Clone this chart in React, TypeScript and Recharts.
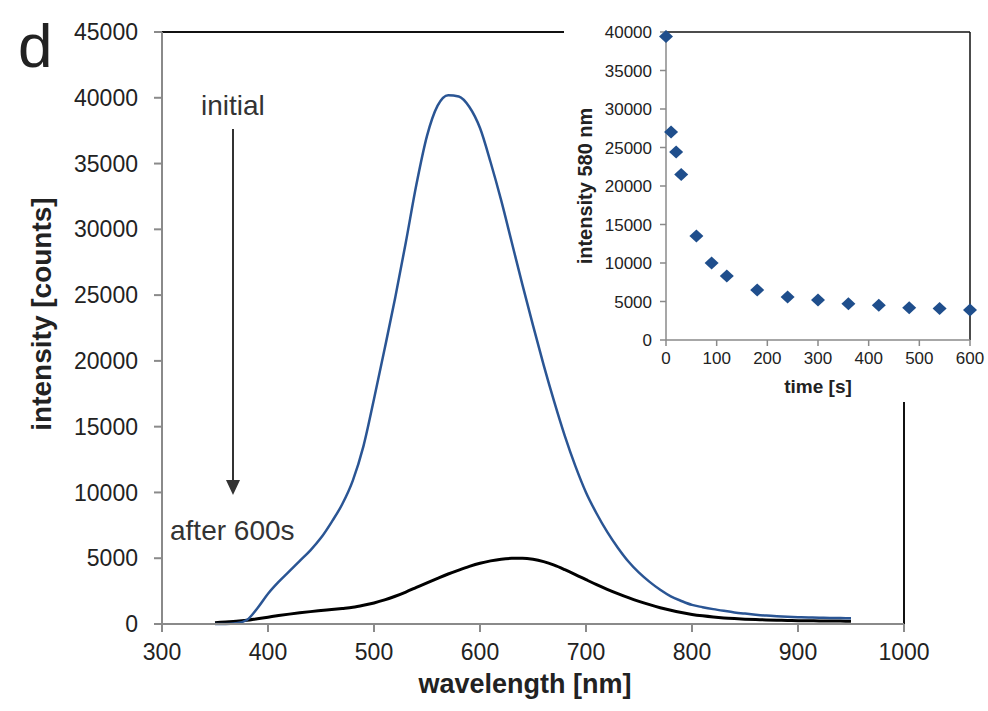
import React from 'react';
import {
  LineChart,
  Line,
  ScatterChart,
  Scatter,
  XAxis,
  YAxis,
  ReferenceLine,
  Label,
} from 'recharts';

// emission spectra, 10 nm steps
const wavelengths = [
  350, 360, 370, 380, 390, 400, 410, 420, 430, 440, 450, 460, 470, 480, 490,
  500, 510, 520, 530, 540, 550, 560, 570, 580, 590, 600, 610, 620, 630, 640,
  650, 660, 670, 680, 690, 700, 710, 720, 730, 740, 750, 760, 770, 780, 790,
  800, 810, 820, 830, 840, 850, 860, 870, 880, 890, 900, 910, 920, 930, 940, 950,
];
const initialCounts = [
  0, 0, 50, 300, 1200, 2300, 3200, 4000, 4800, 5600, 6550, 7750, 9100, 10900, 13500,
  17100, 20900, 24800, 29000, 33400, 37100, 39400, 40200, 40100, 39300, 37700, 35100, 32200, 29000, 25800,
  22700, 19700, 16900, 14300, 12000, 10000, 8400, 7000, 5800, 4750, 3900, 3200, 2600, 2100, 1750,
  1450, 1280, 1130, 1000, 880, 790, 710, 640, 590, 550, 520, 495, 475, 460, 450, 440,
];
const after600Counts = [
  100, 150, 200, 280, 400, 520, 640, 750, 850, 940, 1020, 1100, 1180, 1270, 1420,
  1600, 1830, 2110, 2430, 2780, 3130, 3470, 3800, 4100, 4380, 4620, 4800, 4930, 4990, 5000,
  4920, 4740, 4470, 4130, 3760, 3370, 2990, 2640, 2310, 2000, 1720, 1470, 1240, 1040, 870,
  730, 620, 530, 460, 410, 370, 340, 310, 290, 270, 255, 245, 235, 228, 220, 215,
];

// inset: intensity at 580 nm over time
const times = [0, 10, 20, 30, 60, 90, 120, 180, 240, 300, 360, 420, 480, 540, 600];
const intensity580 = [39400, 27000, 24400, 21500, 13500, 10000, 8300, 6500, 5600, 5200, 4700, 4500, 4200, 4100, 3900];

const wlTicks = [300, 400, 500, 600, 700, 800, 900, 1000];
const countTicks = [0, 5000, 10000, 15000, 20000, 25000, 30000, 35000, 40000, 45000];
const timeTicks = [0, 100, 200, 300, 400, 500, 600];
const insetTicks = [0, 5000, 10000, 15000, 20000, 25000, 30000, 35000, 40000];

const FONT = '"Liberation Sans", Arial, Helvetica, sans-serif';
const BLUE = '#2a5594';
const MARKER = '#1f4e8c';
const AXIS = '#8a8a8a';
const TEXT = '#222';

const spectra = wavelengths.map((wl, i) => ({
  wl,
  initial: initialCounts[i],
  after: after600Counts[i],
}));
const decay = times.map((t, i) => ({ t, v: intensity580[i] }));

const Diamond = (props: any) => {
  const { cx, cy } = props;
  if (cx == null || cy == null) return null;
  return (
    <path
      d={`M${cx},${cy - 6.5} L${cx + 7},${cy} L${cx},${cy + 6.5} L${cx - 7},${cy} Z`}
      fill={MARKER}
    />
  );
};

const App: React.FC = () => {
  return (
    <div style={{ position: 'absolute', left: 0, top: 0, width: 988, height: 711, background: '#fff', fontFamily: FONT }}>
      <LineChart
        width={988}
        height={711}
        data={spectra}
        margin={{ top: 32, right: 84, left: 0, bottom: 0 }}
      >
        <XAxis
          dataKey="wl"
          type="number"
          domain={[300, 1000]}
          ticks={wlTicks}
          height={87}
          axisLine={{ stroke: AXIS, strokeWidth: 2 }}
          tickLine={{ stroke: AXIS, strokeWidth: 2 }}
          tickSize={8}
          tickMargin={12}
          tick={{ fill: TEXT, fontSize: 23, fontFamily: FONT }}
        >
          <Label
            content={({ viewBox }: any) => (
              <text
                x={viewBox.x + viewBox.width / 2 - 8}
                y={viewBox.y + 60}
                textAnchor="middle"
                dominantBaseline="central"
                fontSize={27}
                fontWeight="bold"
                fontFamily={FONT}
                fill={TEXT}
              >
                wavelength [nm]
              </text>
            )}
          />
        </XAxis>
        <YAxis
          type="number"
          domain={[0, 45000]}
          ticks={countTicks}
          width={162}
          axisLine={{ stroke: AXIS, strokeWidth: 2 }}
          tickLine={{ stroke: AXIS, strokeWidth: 2 }}
          tickSize={8}
          tickMargin={16}
          tick={{ fill: TEXT, fontSize: 23, fontFamily: FONT }}
        >
          <Label
            content={({ viewBox }: any) => {
              const x = viewBox.x + 41;
              const y = viewBox.y + viewBox.height / 2 - 14;
              return (
                <text
                  x={x}
                  y={y}
                  transform={`rotate(-90, ${x}, ${y})`}
                  textAnchor="middle"
                  dominantBaseline="central"
                  fontSize={28}
                  fontWeight="bold"
                  fontFamily={FONT}
                  fill={TEXT}
                >
                  intensity [counts]
                </text>
              );
            }}
          />
        </YAxis>
        <ReferenceLine y={45000} stroke="#111" strokeWidth={2} />
        <ReferenceLine x={1000} stroke="#111" strokeWidth={2} />
        <Line
          dataKey="after"
          type="monotone"
          stroke="#000"
          strokeWidth={3}
          dot={false}
          isAnimationActive={false}
        />
        <Line
          dataKey="initial"
          type="monotone"
          stroke={BLUE}
          strokeWidth={2.5}
          dot={false}
          isAnimationActive={false}
        />
      </LineChart>

      {/* annotations */}
      <svg
        width={988}
        height={711}
        style={{ position: 'absolute', left: 0, top: 0, pointerEvents: 'none' }}
      >
        <text x={18} y={67} fontSize={62} fontFamily={FONT} fill={TEXT}>d</text>
        <text x={201} y={115} fontSize={28} fontFamily={FONT} fill="#333">initial</text>
        <line x1={233} y1={129} x2={233} y2={482} stroke="#333" strokeWidth={2} />
        <polygon points="226,480 240,480 233,495" fill="#333" />
        <text x={170} y={540} fontSize={28} fontFamily={FONT} fill="#333">after 600s</text>
      </svg>

      {/* inset */}
      <div style={{ position: 'absolute', left: 564, top: 0, width: 424, height: 402, background: '#fff' }}>
        <ScatterChart
          width={424}
          height={402}
          margin={{ top: 32, right: 18, left: 0, bottom: 0 }}
        >
          <XAxis
            dataKey="t"
            type="number"
            domain={[0, 600]}
            ticks={timeTicks}
            height={62}
            axisLine={{ stroke: AXIS, strokeWidth: 1.5 }}
            tickLine={{ stroke: AXIS, strokeWidth: 1.5 }}
            tickSize={6}
            tickMargin={6}
            tick={{ fill: TEXT, fontSize: 17, fontFamily: FONT }}
          >
            <Label
              content={({ viewBox }: any) => (
                <text
                  x={viewBox.x + viewBox.width / 2}
                  y={viewBox.y + 46}
                  textAnchor="middle"
                  dominantBaseline="central"
                  fontSize={19}
                  fontWeight="bold"
                  fontFamily={FONT}
                  fill={TEXT}
                >
                  time [s]
                </text>
              )}
            />
          </XAxis>
          <YAxis
            dataKey="v"
            type="number"
            domain={[0, 40000]}
            ticks={insetTicks}
            width={102}
            axisLine={{ stroke: AXIS, strokeWidth: 1.5 }}
            tickLine={{ stroke: AXIS, strokeWidth: 1.5 }}
            tickSize={6}
            tickMargin={8}
            tick={{ fill: TEXT, fontSize: 17, fontFamily: FONT }}
          >
            <Label
              content={({ viewBox }: any) => {
                const x = viewBox.x + 21;
                const y = viewBox.y + viewBox.height / 2;
                return (
                  <text
                    x={x}
                    y={y}
                    transform={`rotate(-90, ${x}, ${y})`}
                    textAnchor="middle"
                    dominantBaseline="central"
                    fontSize={20}
                    fontWeight="bold"
                    fontFamily={FONT}
                    fill={TEXT}
                  >
                    intensity 580 nm
                  </text>
                );
              }}
            />
          </YAxis>
          <ReferenceLine y={40000} stroke="#111" strokeWidth={1.5} />
          <ReferenceLine x={600} stroke="#111" strokeWidth={1.5} />
          <Scatter data={decay} shape={Diamond} isAnimationActive={false} />
        </ScatterChart>
      </div>
    </div>
  );
};

export default App;
